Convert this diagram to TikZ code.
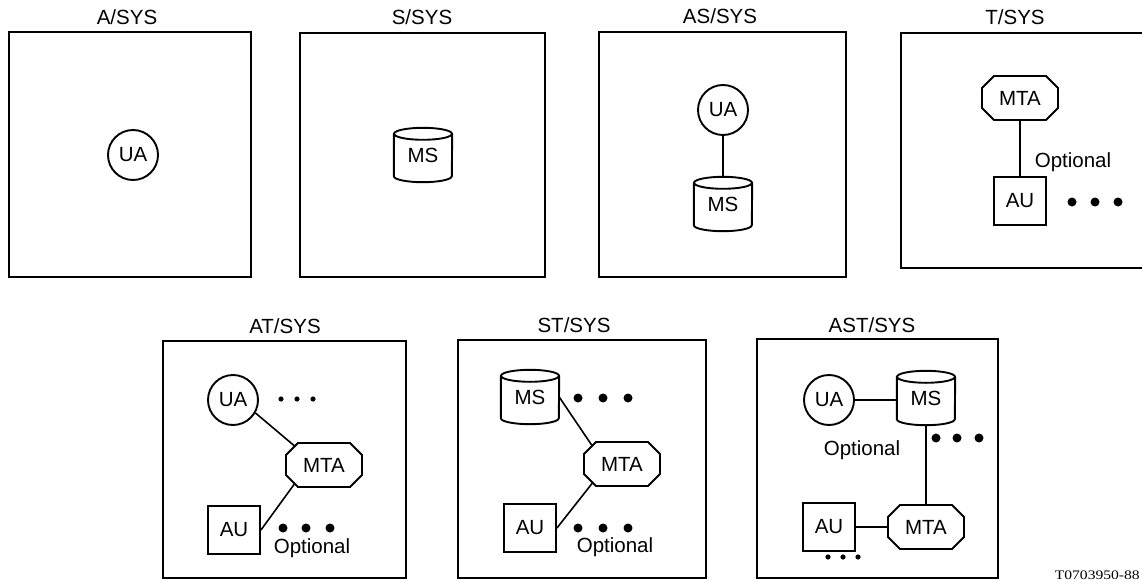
\documentclass[tikz,border=0pt]{standalone}
\usepackage{fontspec}
\setmainfont{Liberation Sans}
\newfontfamily\codefont{Liberation Serif}
\usetikzlibrary{shapes.misc}
\newcommand\drawcyl[1]{%
  \draw[line width=1.9pt] ([yshift=-6pt]#1.north) ellipse[x radius=29pt, y radius=6pt];
  \draw[line width=1.9pt] ([yshift=-6pt]#1.north west) -- ([yshift=6pt]#1.south west)
    arc[start angle=180, end angle=360, x radius=29pt, y radius=6pt]
    -- ([yshift=-6pt]#1.north east);}
\newcommand\bigdots[3]{\fill (#1,#3) circle[radius=4.5pt] (#2,#3) circle[radius=4.5pt];}
\newcommand\smalldots[2]{\fill (#1,#2) circle[radius=2.6pt];}
\begin{document}
\begin{tikzpicture}[x=1pt,y=-1pt,
  every node/.style={font=\fontsize{20.5}{24}\selectfont},
  frame/.style={line width=1.8pt},
  ua/.style={circle, draw, line width=1.9pt, minimum size=50pt, inner sep=0pt},
  au/.style={rectangle, draw, line width=1.9pt, minimum width=52pt, minimum height=48pt, inner sep=0pt},
  mta/.style={chamfered rectangle, chamfered rectangle xsep=6pt, chamfered rectangle ysep=6pt,
     draw, line width=1.9pt, minimum width=76pt, minimum height=44pt, inner sep=0pt},
  ms/.style={minimum width=58pt, minimum height=54pt, inner sep=0pt},
  link/.style={line width=1.6pt}
]
\useasboundingbox (0,0) rectangle (1142,580);

% titles
\node (tA) at (127,17) {A/SYS};
\node (tS) at (422,17) {S/SYS};
\node (tAS) at (720,16) {AS/SYS};
\node (tT) at (1015,17) {T/SYS};
\node (tAT) at (285,326) {AT/SYS};
\node (tST) at (574,325) {ST/SYS};
\node (tAST) at (872,325) {AST/SYS};

% frames
\draw[frame] (9,32) rectangle (251,277);
\draw[frame] (300,33) rectangle (545,277);
\draw[frame] (599,32) rectangle (846,277);
\draw[frame] (1145,33) -- (901,33) -- (901,268) -- (1145,268);
\draw[frame] (163,341) rectangle (406,578);
\draw[frame] (458,340) rectangle (706,578);
\draw[frame] (757,339) rectangle (998,578);

% A/SYS
\node[ua] (a-ua) at (133,155) {UA};

% S/SYS
\node[ms] (s-ms) at (423,155) {\raisebox{-4pt}{MS}};
\drawcyl{s-ms}

% AS/SYS
\node[ua] (as-ua) at (723,110) {UA};
\node[ms] (as-ms) at (723,204) {\raisebox{-4pt}{MS}};
\drawcyl{as-ms}
\draw[link] (as-ua) -- (as-ms);

% T/SYS
\node[mta] (t-mta) at (1020,98) {MTA};
\node[au] (t-au) at (1020,201) {AU};
\draw[link] (t-mta) -- (t-au);
\node (t-opt) at (1073,162) {Optional};
\bigdots{1072}{1095}{202}
\bigdots{1118}{1118}{202}

% AT/SYS
\node[ua] (at-ua) at (233,400) {UA};
\node[mta] (at-mta) at (324,465) {MTA};
\node[au] (at-au) at (234,530) {AU};
\draw[link] (at-ua.-30) -- (at-mta.147);
\draw[link] (at-mta.213) -- (at-au.east);
\smalldots{281}{399}
\smalldots{297}{399}
\smalldots{313}{399}
\bigdots{283}{306}{528}
\bigdots{330}{330}{528}
\node (at-opt) at (312,548) {Optional};

% ST/SYS
\node[ms] (st-ms) at (530,397) {\raisebox{-4pt}{MS}};
\drawcyl{st-ms}
\node[mta] (st-mta) at (622,464) {MTA};
\node[au] (st-au) at (530,528) {AU};
\draw[link] (st-ms.east) -- (st-mta.148);
\draw[link] (st-mta.213) -- (st-au.east);
\bigdots{578}{603}{398}
\bigdots{628}{628}{398}
\bigdots{578}{603}{528}
\bigdots{628}{628}{528}
\node (st-opt) at (615,547) {Optional};

% AST/SYS
\node[ua] (ast-ua) at (829,400) {UA};
\node[ms] (ast-ms) at (926,398) {\raisebox{-4pt}{MS}};
\drawcyl{ast-ms}
\node[mta] (ast-mta) at (926,527) {MTA};
\node[au] (ast-au) at (829,527) {AU};
\draw[link] (ast-ua) -- (ast-ua -| ast-ms.west);
\draw[link] (ast-ms) -- (ast-mta);
\draw[link] (ast-au) -- (ast-mta);
\bigdots{936}{957}{438}
\bigdots{979}{979}{438}
\node (ast-opt) at (862,450) {Optional};
\smalldots{828}{557}
\smalldots{843}{557}
\smalldots{858}{557}

% figure code
\node[anchor=east, font=\codefont\fontsize{13}{15}\selectfont, xscale=1.2, inner sep=0pt] (code) at (1140,575) {T0703950-88};
\end{tikzpicture}
\end{document}
